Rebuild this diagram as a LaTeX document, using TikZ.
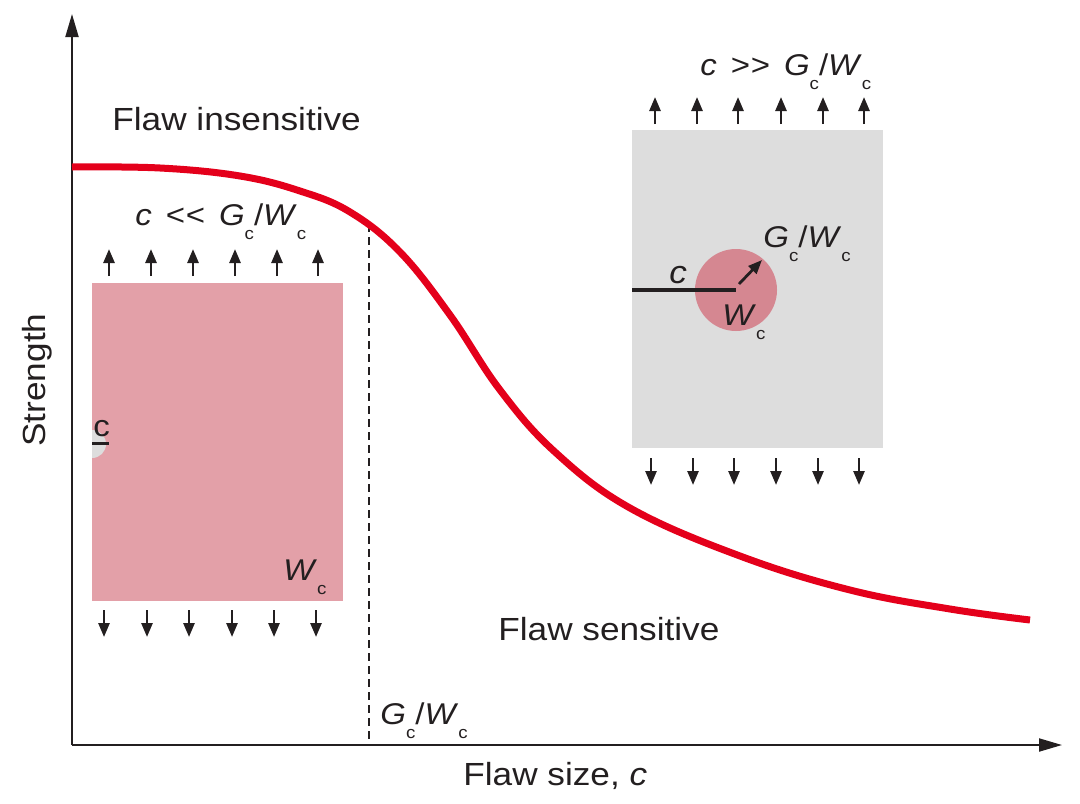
\documentclass[tikz,border=0pt]{standalone}
\usepackage{fontspec}
\setmainfont[FakeStretch=1.1]{Liberation Sans}
\usetikzlibrary{arrows.meta}
\definecolor{curvered}{RGB}{228,0,27}
\definecolor{pinkbox}{RGB}{227,160,168}
\definecolor{graybox}{RGB}{221,221,221}
\definecolor{pinkdisc}{RGB}{213,135,145}
\definecolor{ink}{RGB}{35,31,32}
\newcommand{\lowc}{\raisebox{-7pt}{\fontsize{8.5}{9}\selectfont c}}
\newcommand{\GoverW}{\textit{G}\lowc/\textit{W}\lowc}
\newcommand{\gap}{\hspace{7pt}}
\newcommand{\muchless}{<\kern0.3pt<}
\newcommand{\muchgreater}{>\kern0.3pt>}
\begin{document}
\begin{tikzpicture}[x=0.5pt,y=-0.5pt,
  font=\fontsize{15}{17}\selectfont,
  axis/.style={line width=1pt, draw=ink, -{Triangle[length=11.5pt,width=6.5pt]}},
  load/.style={line width=1.3pt, draw=ink, -{Triangle[length=7pt,width=5.5pt]}},
  biglabel/.style={font=\fontsize{16}{18}\selectfont, inner sep=0, anchor=base west, text=ink},
  formula/.style={inner sep=0, anchor=base west, text=ink},
  box/.style={inner sep=0, minimum width=125.5pt, minimum height=159pt, anchor=north west}
]
\useasboundingbox (0,0) rectangle (1080,803);

% specimen boxes
\node[box, fill=pinkbox] (lbox) at (92,283) {};
\node[box, fill=graybox] (rbox) at (632,130) {};

% left edge crack
\fill[graybox] (92,430) arc[start angle=-90, end angle=90, radius=14];
\draw[ink, line width=1.5pt] (92,443) -- (109,443);
\node[formula] (lc) at (93,436) {c};
\node[formula] (lw) at (283,580) {\textit{W}\lowc};

% right specimen: disc and crack
\node[circle, fill=pinkdisc, minimum size=41pt, inner sep=0] (disc) at (736,290) {};
\draw[ink, line width=2pt] (rbox.west |- disc.center) -- (disc.center);
\coordinate (rtail) at (739,284);
\coordinate (rtip) at (762,260);
\draw[load, line width=1.4pt] (rtail) -- (rtip);
\node[formula, font=\fontsize{16}{18}\selectfont] (rc) at (669,283) {\textit{c}};
\node[formula] (rg) at (763,247) {\GoverW};
\node[formula] (rw) at (722,325) {\textit{W}\lowc};

% loading arrows
\foreach \x in {109,151,193,235,277,318} \draw[load] (\x,276) -- (\x,249);
\foreach \x in {104,147,189,232,274,316} \draw[load] (\x,610) -- (\x,637);
\foreach \x in {655,697,738,781,823,864} \draw[load] (\x,124) -- (\x,97);
\foreach \x in {651,693,734,776,818,859} \draw[load] (\x,458) -- (\x,485);

% axes
\coordinate (O) at (72,745);
\coordinate (ytip) at (72,14);
\coordinate (xtip) at (1062,745);
\draw[axis] (O) -- (ytip);
\draw[axis] (O) -- (xtip);

% dashed marker
\coordinate (dtop) at (369,224);
\coordinate (dbot) at (369,745);
\draw[ink, line width=0.7pt, dash pattern=on 4pt off 2.5pt] (dtop) -- (dbot);

% strength curve
\draw[curvered, line width=3.5pt] plot[smooth, tension=0.65] coordinates
  {(72,167) (160,168) (240,176) (300,191) (350,212) (400,252) (450,315) (500,390)
   (555,452) (630,508) (740,556) (850,590) (950,609) (1030,620)};

% labels
\node[biglabel] (fi) at (112,130) {Flaw insensitive};
\node[biglabel] (fs) at (498,640) {Flaw sensitive};
\node[biglabel] (fx) at (463,785) {Flaw size, \textit{c}};
\node[biglabel, rotate=90] (st) at (45,447) {Strength};
\node[formula] (lt) at (135,225) {\textit{c}\gap\muchless\gap\GoverW};
\node[formula] (rt) at (700,75) {\textit{c}\gap\muchgreater\gap\GoverW};
\node[formula] (gw) at (380,724) {\GoverW};
\end{tikzpicture}
\end{document}
